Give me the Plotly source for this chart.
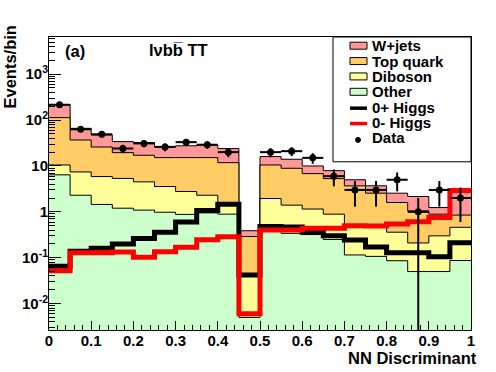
import plotly.graph_objects as go

# 20 bins of the NN discriminant
bin_edges = [0.00, 0.05, 0.10, 0.15, 0.20, 0.25, 0.30, 0.35, 0.40, 0.45, 0.50,
             0.55, 0.60, 0.65, 0.70, 0.75, 0.80, 0.85, 0.90, 0.95, 1.00]

# background contributions per bin (stacked: other, diboson, top, w+jets)
other = [6.4, 2.3, 1.45, 1.2, 1.09, 0.98, 0.88, 0.95, 0.89, 0.005,
         0.42, 0.34, 0.32, 0.25, 0.115, 0.107, 0.086, 0.05, 0.05, 0.087]
diboson = [4.1, 5.1, 4.42, 4.15, 3.41, 2.58, 1.89, 1.35, 0.66, 0.035,
           1.53, 1.06, 0.83, 0.64, 0.385, 0.373, 0.274, 0.16, 0.25, 0.373]
top_quark = [102.5, 29.4, 20.0, 14.15, 12.6, 11.64, 12.43, 12.9, 10.25, 0.25,
             8.55, 7.5, 5.65, 4.41, 3.18, 2.07, 1.24, 0.84, 0.59, 0.39]
wjets = [106, 29.2, 21.4, 14.4, 15.1, 11.2, 12.3, 13.4, 12.1, 0.097,
         5.5, 5.1, 3.2, 2.6, 1.32, 1.15, 0.95, 1.11, 0.35, 1.95]

# signal templates
higgs_0p = [0.065, 0.138, 0.16, 0.2, 0.264, 0.36, 0.6, 1.07, 1.47, 0.042,
            0.48, 0.47, 0.36, 0.30, 0.243, 0.171, 0.129, 0.129, 0.105, 0.212]
higgs_0m = [0.052, 0.128, 0.128, 0.133, 0.102, 0.135, 0.17, 0.245, 0.287, 0.006,
            0.40, 0.40, 0.44, 0.44, 0.50, 0.49, 0.54, 0.61, 0.75, 2.92]

# observed data
data = [215, 63, 49, 24, 31, 26, 33, 29, 20, None,
        20, 21, 15, 6, 3, 3, 5, 1, 3, 2]
data_err = [14.7, 7.9, 7.0, 4.9, 5.6, 5.1, 5.7, 5.4, 4.5, None,
            4.5, 4.6, 3.9, 2.4, 1.7, 1.7, 2.2, 1.0, 1.7, 1.4]

centers = [(a + b) / 2 for a, b in zip(bin_edges[:-1], bin_edges[1:])]

# cumulative stack
s_other = other
s_dib = [a + b for a, b in zip(s_other, diboson)]
s_top = [a + b for a, b in zip(s_dib, top_quark)]
s_wj = [a + b for a, b in zip(s_top, wjets)]

FONT = "Liberation Sans"
fig = go.Figure()

# draw the stack largest first so the smaller ones sit on top
for vals, col in [(s_wj, "#ff9999"), (s_top, "#ffcc66"), (s_dib, "#ffff99"), (s_other, "#ccffcc")]:
    fig.add_trace(go.Scatter(
        x=bin_edges, y=vals + [vals[-1]], mode="lines",
        line=dict(shape="hv", color="black", width=1),
        fill="tozeroy", fillcolor=col, showlegend=False, hoverinfo="skip"))

fig.add_trace(go.Scatter(x=bin_edges, y=higgs_0p + [higgs_0p[-1]], mode="lines",
                         line=dict(shape="hv", color="black", width=5), showlegend=False))
fig.add_trace(go.Scatter(x=bin_edges, y=higgs_0m + [higgs_0m[-1]], mode="lines",
                         line=dict(shape="hv", color="#ff0000", width=5), showlegend=False))

fig.add_trace(go.Scatter(
    x=centers, y=data, mode="markers",
    marker=dict(color="black", size=7),
    error_y=dict(type="data", array=data_err, arrayminus=data_err, color="black", thickness=2, width=0),
    error_x=dict(type="constant", value=0.025, color="black", thickness=2, width=0),
    showlegend=False))

ytv = [1e-2, 1e-1, 1, 10, 100, 1000]
ytt = ["10<sup>-2</sup>", "10<sup>-1</sup>", "1", "10", "10<sup>2</sup>", "10<sup>3</sup>"]
yminor = [m * 10.0 ** e for e in range(-3, 4) for m in range(2, 10)]

tickfont = dict(family=FONT, size=15, color="black", weight="bold")
fig.update_layout(
    width=496, height=372, autosize=False,
    margin=dict(l=49, r=25, t=37, b=41.5),
    paper_bgcolor="white", plot_bgcolor="white",
    xaxis=dict(range=[0, 1], showline=True, mirror=True, linecolor="black", linewidth=1,
               ticks="inside", ticklen=9, tickcolor="black", tick0=0, dtick=0.1,
               minor=dict(ticks="inside", ticklen=5, dtick=0.02, tickcolor="black"),
               tickfont=tickfont, ticklabelstandoff=-3, showgrid=False, zeroline=False),
    yaxis=dict(type="log", range=[-2.575, 3.81], showline=True, mirror=True,
               linecolor="black", linewidth=1, ticks="inside", ticklen=12, tickcolor="black",
               tickmode="array", tickvals=ytv, ticktext=ytt,
               minor=dict(ticks="inside", ticklen=6, tickmode="array", tickvals=yminor, tickcolor="black"),
               tickfont=tickfont, ticklabelstandoff=-3, showgrid=False, zeroline=False),
)

def px(x):
    return (x - 49) / 422.0

def py(y):
    return (330.5 - y) / 293.5

ann = []
ann.append(dict(text="NN Discriminant", x=px(479), y=py(359), xanchor="right", yanchor="middle"))
ann.append(dict(text="Events/bin", x=px(10), y=py(24), xanchor="center", yanchor="top", textangle=-90))
ann.append(dict(text="(a)", x=px(63), y=py(51), xanchor="left", yanchor="middle"))
ann.append(dict(text="l\u03bdbb\u0305 TT", x=px(147), y=py(50), xanchor="left", yanchor="middle"))

# legend, drawn by hand in the ROOT style
shapes = [dict(type="rect", xref="paper", yref="paper", x0=px(333), x1=px(471), y0=py(162), y1=py(37),
               fillcolor="white", line=dict(color="black", width=1), layer="above")]
entries = ["W+jets", "Top quark", "Diboson", "Other", "0+ Higgs", "0- Higgs", "Data"]
fills = ["#ff9999", "#ffcc66", "#ffff99", "#ccffcc"]
for i, name in enumerate(entries):
    yc = 45.7 + 15.4 * i
    if i < 4:
        shapes.append(dict(type="rect", xref="paper", yref="paper", x0=px(350), x1=px(367),
                           y0=py(yc + 3.5), y1=py(yc - 3.5), fillcolor=fills[i],
                           line=dict(color="black", width=1), layer="above"))
    elif i < 6:
        shapes.append(dict(type="line", xref="paper", yref="paper", x0=px(350), x1=px(367),
                           y0=py(yc + 1), y1=py(yc + 1), line=dict(color="black" if i == 4 else "#ff0000", width=3.5),
                           layer="above"))
    else:
        shapes.append(dict(type="circle", xref="paper", yref="paper", x0=px(355.5), x1=px(360.5),
                           y0=py(yc + 4.5), y1=py(yc - 0.5), fillcolor="black",
                           line=dict(color="black", width=1), layer="above"))
    ann.append(dict(text=name, x=px(370), y=py(yc), xanchor="left", yanchor="middle", font_size=15))

for a in ann:
    a.setdefault("font_size", 16.5)
    fs = a.pop("font_size")
    a.update(xref="paper", yref="paper", showarrow=False,
             font=dict(family=FONT, size=fs, color="black", weight="bold"))
fig.update_layout(annotations=ann, shapes=shapes)

# page body margin would push the figure 8px off, drop it
fig.write_html("out.html", config={"displayModeBar": False},
               post_script="document.body.style.margin='0px';")
